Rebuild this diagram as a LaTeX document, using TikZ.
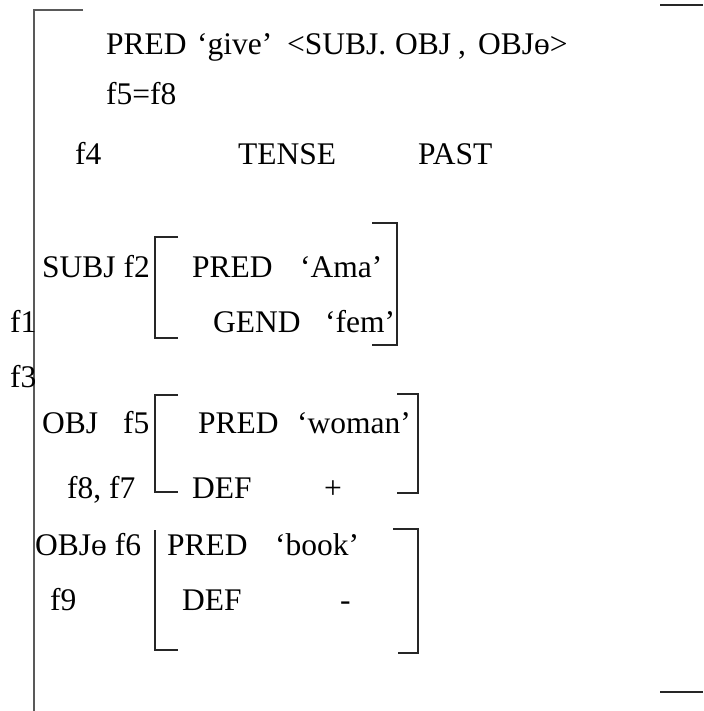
\documentclass[tikz,border=0pt]{standalone}
\usepackage{fontspec}
\setmainfont{Liberation Serif}
\newfontfamily\tnr{Liberation Serif}
\begin{document}
\begin{tikzpicture}[x=1pt,y=-1pt,
  txt/.style={anchor=base west,inner sep=0pt,font=\tnr\fontsize{31.5}{36}\selectfont},
  txtc/.style={anchor=base,inner sep=0pt,font=\tnr\fontsize{31.5}{36}\selectfont},
  brk/.style={line width=1.4pt,black!85},
  outer/.style={line width=2pt,black!65}]
\useasboundingbox (0,0) rectangle (703,711);
% outer brackets
\draw[outer] (83,10) -- (34,10) -- (34,711);
\draw[brk] (660,5) -- (703,5);
\draw[brk] (660,692) -- (703,692);
% top lines
\node[txt] (pred1) at (106,55) {PRED};
\node[txt] (give) at (197,55) {‘give’};
\node[txt] (subj1) at (287,55) {<SUBJ.};
\node[txt] (obj1) at (395,55) {OBJ};
\node[txt] (comma1) at (458,55) {,};
\node[txt] (objt1) at (478,55) {OBJɵ>};
\node[txt] (f5f8) at (106,105) {f5=f8};
\node[txt] (f4) at (75,165) {f4};
\node[txt] (tense) at (238,165) {TENSE};
\node[txt] (past) at (418,165) {PAST};
% SUBJ
\node[txt] (subj) at (42,277) {SUBJ f2};
\draw[brk] (178,237) -- (155,237) -- (155,338) -- (178,338);
\node[txt] (pred2) at (192,277) {PRED};
\node[txt] (ama) at (300,277) {‘Ama’};
\node[txt] (gend) at (213,332) {GEND};
\node[txt] (fem) at (325,332) {‘fem’};
\draw[brk] (372,223) -- (397,223) -- (397,345) -- (372,345);
\node[txt] (f1) at (10,332) {f1};
\node[txt] (f3) at (10,387) {f3};
% OBJ
\node[txt] (obj) at (42,433) {OBJ};
\node[txt] (f5) at (123,433) {f5};
\draw[brk] (178,395) -- (155,395) -- (155,492) -- (178,492);
\node[txt] (pred3) at (198,433) {PRED};
\node[txt] (woman) at (297,433) {‘woman’};
\node[txt] (f8f7) at (67,498) {f8, f7};
\node[txt] (def1) at (192,498) {DEF};
\node[txtc] (plus) at (333,498) {+};
\draw[brk] (397,394) -- (418,394) -- (418,493) -- (397,493);
% OBJtheta
\node[txt] (objt) at (35,555) {OBJɵ f6};
\draw[brk] (155,530) -- (155,650) -- (178,650);
\node[txt] (pred4) at (167,555) {PRED};
\node[txt] (book) at (275,555) {‘book’};
\node[txt] (f9) at (50,610) {f9};
\node[txt] (def2) at (182,610) {DEF};
\node[txt] (minus) at (340,610) {-};
\draw[brk] (393,529) -- (418,529) -- (418,653) -- (398,653);
\end{tikzpicture}
\end{document}
